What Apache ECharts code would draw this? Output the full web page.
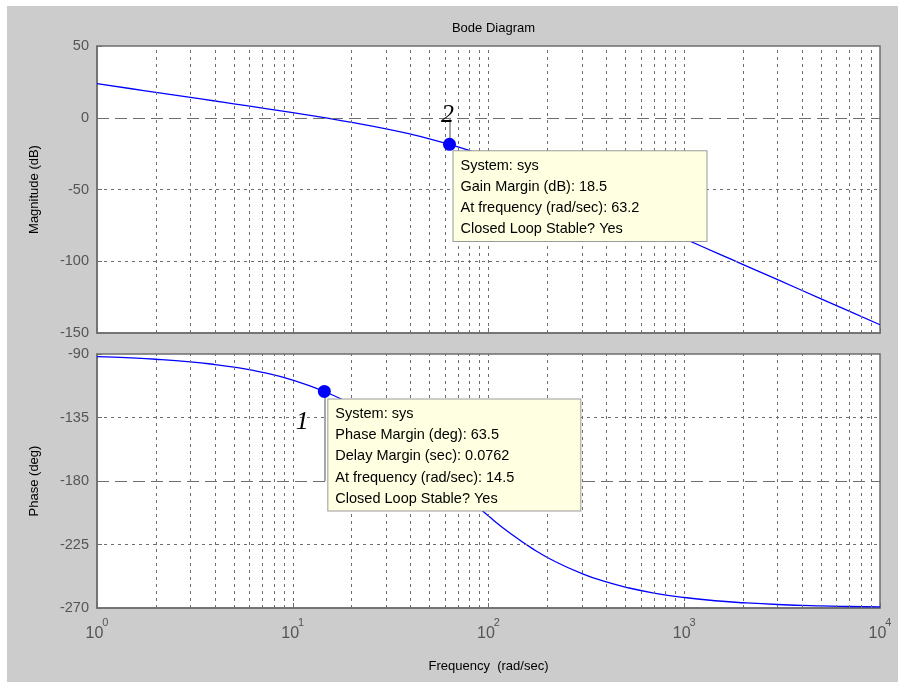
<!DOCTYPE html>
<html>
<head>
<meta charset="utf-8">
<script src="https://cdn.jsdelivr.net/npm/echarts@6/dist/echarts.min.js"></script>
<style>
html,body{margin:0;padding:0;background:#ffffff;}
#chart{position:absolute;left:7px;top:6px;width:891px;height:676px;}
</style>
</head>
<body>
<div id="chart"></div>
<script>
// ---- data ----
const freqs = [1, 1.5, 2, 3, 4, 5, 7, 10, 14.5, 20, 30, 40, 50, 63.2, 80, 100, 130, 170, 220, 300, 400, 500, 700, 1000, 1500, 2000, 3000, 5000, 7000, 10000];
const magnitudeDb = [23.75, 20.22, 17.72, 14.19, 11.67, 9.71, 6.73, 3.51, 0.03, -3.19, -7.71, -11.43, -14.70, -18.54, -22.86, -27.36, -33.07, -39.29, -45.54, -53.28, -60.59, -66.33, -75.02, -84.28, -94.82, -102.31, -112.86, -126.17, -134.94, -144.24];
const phaseDeg = [-91.87, -92.80, -93.73, -95.60, -97.46, -99.31, -103.01, -108.49, -116.52, -125.93, -141.63, -155.34, -167.11, -180.05, -193.06, -204.82, -217.38, -228.43, -237.23, -245.61, -251.57, -255.20, -259.40, -262.56, -265.04, -266.28, -267.51, -268.51, -268.93, -269.26];

const decadeExponents = ['0', '1', '2', '3', '4'];
const magTicks = [-150, -100, -50, 0, 50];
const phaseTicks = [-270, -225, -180, -135, -90];
const gridFreqs = [2, 3, 4, 5, 6, 7, 8, 9, 10, 20, 30, 40, 50, 60, 70, 80, 90, 100, 200, 300, 400, 500, 600, 700, 800, 900, 1000, 2000, 3000, 4000, 5000, 6000, 7000, 8000, 9000];
const magGridShort = [-50, -100];
const magGridLong = [0];
const phaseGridShort = [-135, -225];
const phaseGridLong = [-180];

const gainMargin = {freq: 63.2, mag: -18.5};
const phaseMargin = {freq: 14.5, phase: -116.5};
const gainBoxLines = ['System: sys', 'Gain Margin (dB): 18.5', 'At frequency (rad/sec): 63.2', 'Closed Loop Stable? Yes'];
const phaseBoxLines = ['System: sys', 'Phase Margin (deg): 63.5', 'Delay Margin (sec): 0.0762', 'At frequency (rad/sec): 14.5', 'Closed Loop Stable? Yes'];

// ---- chart ----
const FONT = '"Liberation Sans", Arial, sans-serif';
const GRID_COLOR = '#6e6e6e';
const LABEL_COLOR = '#555555';

const chart = echarts.init(document.getElementById('chart'), null, {renderer: 'canvas'});

function gridLines(shortVals, longVals) {
  const d = [];
  gridFreqs.forEach(f => d.push({xAxis: f}));
  shortVals.forEach(v => d.push({yAxis: v}));
  longVals.forEach(v => d.push({yAxis: v, lineStyle: {type: [12, 6], color: GRID_COLOR, width: 1}}));
  return d;
}

function boxLabel(lines, pos, w) {
  return {
    show: true,
    position: pos,
    formatter: lines.join('\n'),
    backgroundColor: '#ffffe1',
    borderColor: '#9a9a9a',
    borderWidth: 1,
    padding: [4, 10, 1, 7],
    lineHeight: 21.2,
    width: w,
    overflow: 'none',
    fontSize: 14.5,
    fontFamily: FONT,
    color: '#000000',
    align: 'left',
    verticalAlign: 'top'
  };
}

const xCommon = {
  type: 'log',
  logBase: 10,
  min: 1,
  max: 10000,
  axisLine: {show: true, onZero: false, lineStyle: {color: GRID_COLOR, width: 1.5}},
  axisTick: {show: true, inside: true, length: 5, lineStyle: {color: GRID_COLOR}},
  splitLine: {show: false},
  minorTick: {show: false}
};

const yCommon = {
  type: 'value',
  axisLine: {show: true, onZero: false, lineStyle: {color: GRID_COLOR, width: 1.5}},
  axisTick: {show: true, inside: true, length: 5, lineStyle: {color: GRID_COLOR}},
  splitLine: {show: false},
  nameLocation: 'middle',
  nameTextStyle: {fontSize: 13, fontFamily: FONT, color: '#000'},
  axisLabel: {fontSize: 14.5, fontFamily: FONT, color: LABEL_COLOR, margin: 8}
};

const option = {
  backgroundColor: '#cccccc',
  animation: false,
  title: {
    text: 'Bode Diagram',
    left: 481.5,
    top: 11,
    textAlign: 'center',
    textStyle: {fontSize: 13, fontWeight: 'normal', fontFamily: FONT, color: '#000'}
  },
  grid: [
    {left: 90, top: 40, width: 783, height: 287, show: true, backgroundColor: '#ffffff', borderColor: GRID_COLOR, borderWidth: 1.5},
    {left: 90, top: 348, width: 783, height: 254, show: true, backgroundColor: '#ffffff', borderColor: GRID_COLOR, borderWidth: 1.5}
  ],
  xAxis: [
    Object.assign({}, xCommon, {gridIndex: 0, axisLabel: {show: false}}),
    Object.assign({}, xCommon, {
      gridIndex: 1,
      name: 'Frequency  (rad/sec)',
      nameLocation: 'middle',
      nameGap: 52,
      nameTextStyle: {fontSize: 13, fontFamily: FONT, color: '#000'},
      axisLabel: {
        margin: 9,
        formatter: function (v) {
          const e = decadeExponents[Math.round(Math.log10(v))];
          return '{b|10}{s|' + e + '}';
        },
        rich: {
          b: {fontSize: 16, fontFamily: FONT, color: LABEL_COLOR, padding: [9, 0, 0, 0], verticalAlign: 'bottom'},
          s: {fontSize: 11, fontFamily: FONT, color: LABEL_COLOR, verticalAlign: 'top', padding: [0, 0, 0, -1]}
        }
      }
    })
  ],
  yAxis: [
    Object.assign({}, yCommon, {gridIndex: 0, min: magTicks[0], max: magTicks[magTicks.length - 1], interval: 50, name: 'Magnitude (dB)', nameGap: 56}),
    Object.assign({}, yCommon, {gridIndex: 1, min: phaseTicks[0], max: phaseTicks[phaseTicks.length - 1], interval: 45, name: 'Phase (deg)', nameGap: 56})
  ],
  series: [
    {
      type: 'line', xAxisIndex: 0, yAxisIndex: 0, data: [], silent: true, z: 1,
      markLine: {silent: true, symbol: 'none', label: {show: false}, animation: false,
        lineStyle: {type: [3, 4], color: GRID_COLOR, width: 1},
        data: gridLines(magGridShort, magGridLong)}
    },
    {
      type: 'line', xAxisIndex: 1, yAxisIndex: 1, data: [], silent: true, z: 1,
      markLine: {silent: true, symbol: 'none', label: {show: false}, animation: false,
        lineStyle: {type: [3, 4], color: GRID_COLOR, width: 1},
        data: gridLines(phaseGridShort, phaseGridLong)}
    },
    {
      type: 'line', xAxisIndex: 0, yAxisIndex: 0, z: 3,
      data: freqs.map((f, i) => [f, magnitudeDb[i]]),
      showSymbol: false, smooth: true,
      lineStyle: {color: '#0000ff', width: 1.3},
      markLine: {silent: true, symbol: 'none', label: {show: false},
        lineStyle: {type: 'solid', color: '#8a8a8a', width: 1.5},
        data: [[{coord: [gainMargin.freq, 0]}, {coord: [gainMargin.freq, gainMargin.mag]}]]},
      markPoint: {
        silent: true,
        data: [
          {coord: [gainMargin.freq, gainMargin.mag], symbol: 'circle', symbolSize: 13,
            itemStyle: {color: '#0000ff'},
            label: boxLabel(gainBoxLines, [10.5, 13.5], 236)},
          {coord: [gainMargin.freq, gainMargin.mag], symbol: 'circle', symbolSize: 1,
            itemStyle: {color: 'rgba(0,0,0,0)'},
            label: {show: true, position: 'inside', offset: [-2, -29], formatter: '2',
              fontSize: 26, fontStyle: 'italic', fontFamily: '"Liberation Serif", "Times New Roman", serif', color: '#000'}}
        ]
      }
    },
    {
      type: 'line', xAxisIndex: 1, yAxisIndex: 1, z: 3,
      data: freqs.map((f, i) => [f, phaseDeg[i]]),
      showSymbol: false, smooth: true,
      lineStyle: {color: '#0000ff', width: 1.3},
      markLine: {silent: true, symbol: 'none', label: {show: false},
        lineStyle: {type: 'solid', color: '#8a8a8a', width: 1.5},
        data: [[{coord: [phaseMargin.freq, phaseMargin.phase]}, {coord: [phaseMargin.freq, -180]}]]},
      markPoint: {
        silent: true,
        data: [
          {coord: [phaseMargin.freq, phaseMargin.phase], symbol: 'circle', symbolSize: 13,
            itemStyle: {color: '#0000ff'},
            label: boxLabel(phaseBoxLines, [10.5, 14.5], 235)},
          {coord: [phaseMargin.freq, phaseMargin.phase], symbol: 'circle', symbolSize: 1,
            itemStyle: {color: 'rgba(0,0,0,0)'},
            label: {show: true, position: 'inside', offset: [-22, 31], formatter: '1',
              fontSize: 26, fontStyle: 'italic', fontFamily: '"Liberation Serif", "Times New Roman", serif', color: '#000'}}
        ]
      }
    }
  ]
};

chart.setOption(option);
</script>
</body>
</html>
